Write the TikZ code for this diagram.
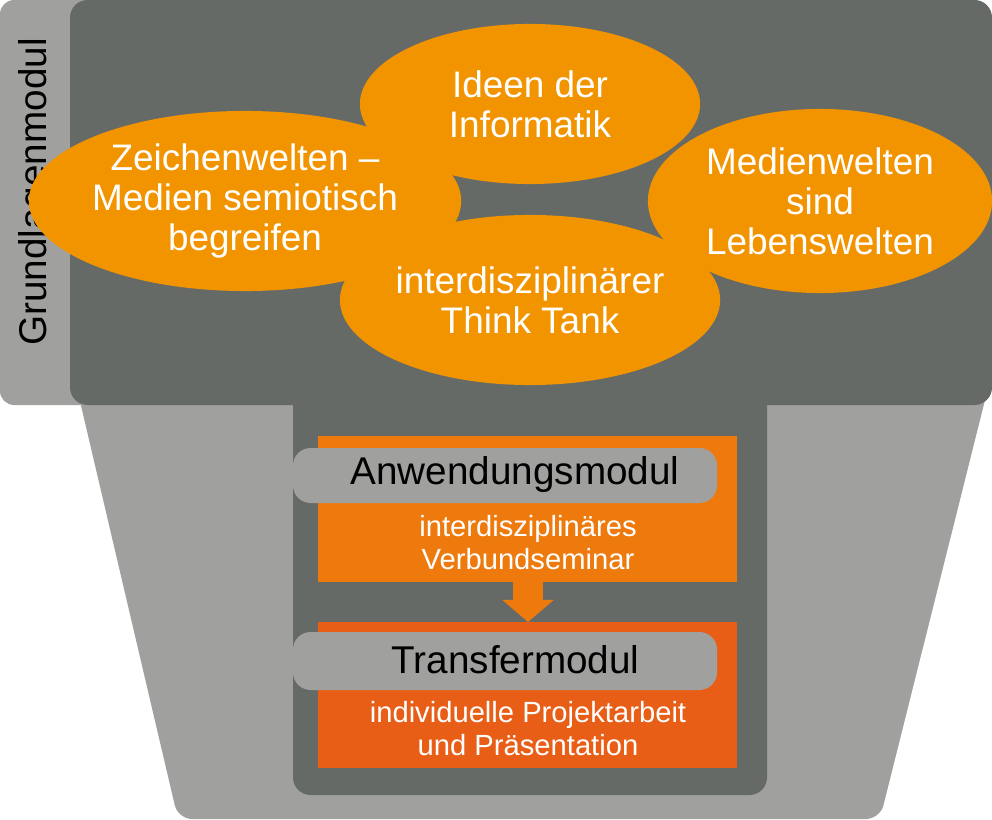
\documentclass[tikz,border=0pt]{standalone}
\usepackage{fontspec}
\setmainfont{Liberation Sans}
\usetikzlibrary{arrows.meta,shapes.geometric}
\definecolor{potgray}{HTML}{A0A09F}
\definecolor{darkgray}{HTML}{656A67}
\definecolor{eorange}{HTML}{F29400}
\definecolor{boxorangeA}{HTML}{EE7A0E}
\definecolor{boxorangeB}{HTML}{E85E16}
\tikzset{
	welt/.style={ellipse,fill=eorange,text=white,align=center,font=\fontsize{10.5}{11.4}\selectfont,inner sep=0},
	subtext/.style={text=white,align=center,font=\fontsize{8.3}{9.4}\selectfont},
	modtitle/.style={text=black,font=\fontsize{11}{13}\selectfont}
}
\begin{document}
\begin{tikzpicture}[x=0.01cm,y=-0.01cm]
	\useasboundingbox (0,0) rectangle (992,819);
	
	%POT
	\fill[potgray,rounded corners=4pt] (0,0) rectangle (120,405);
	\fill[potgray,rounded corners=4pt] (75,380)--(990,380)--(880,819)--(178,819)--cycle;
	\fill[darkgray,rounded corners=5pt] (70,0) rectangle (992,405);
	\fill[darkgray,rounded corners=5pt] (293,380) rectangle (767,795);
	\node[rotate=90,font=\fontsize{11}{13}\selectfont] (grund) at (36,192) {Grundlagenmodul};
	
	%WELTEN
	\node[welt,minimum width=3.4cm,minimum height=1.6cm] (ideen) at (530,104) {Ideen der\\Informatik};
	\node[welt,minimum width=3.4cm,minimum height=1.8cm] (zeichen) at (245,201) {Zeichenwelten --\\Medien semiotisch\\begreifen};
	\node[welt,minimum width=3.44cm,minimum height=1.84cm] (medien) at (820,201) {Medienwelten\\sind\\Lebenswelten};
	\node[welt,minimum width=3.4cm,minimum height=1.7cm] (think) at (530,300) {interdisziplinärer\\Think Tank};
	
	%MODULE
	\fill[boxorangeA] (318,436) rectangle (737,582);
	\fill[boxorangeB] (318,622) rectangle (737,768);
	\fill[potgray,rounded corners=5pt] (293,448) rectangle (717,503);
	\fill[potgray,rounded corners=5pt] (293,632) rectangle (717,690);
	\node[modtitle,anchor=east] (anw) at (692,474) {Anwendungsmodul};
	\node[modtitle,anchor=east] (trans) at (652,660) {Transfermodul};
	\node[subtext] (verbund) at (528,543) {interdisziplinäres\\Verbundseminar};
	\node[subtext] (projekt) at (528,729) {individuelle Projektarbeit\\und Präsentation};
	\coordinate (pfeilA) at (528,582);
	\coordinate (pfeilB) at (528,622);
	\draw[boxorangeA,line width=0.3cm,-{Triangle[width=0.5cm,length=0.22cm]}] (pfeilA)--(pfeilB);
\end{tikzpicture}
\end{document}
